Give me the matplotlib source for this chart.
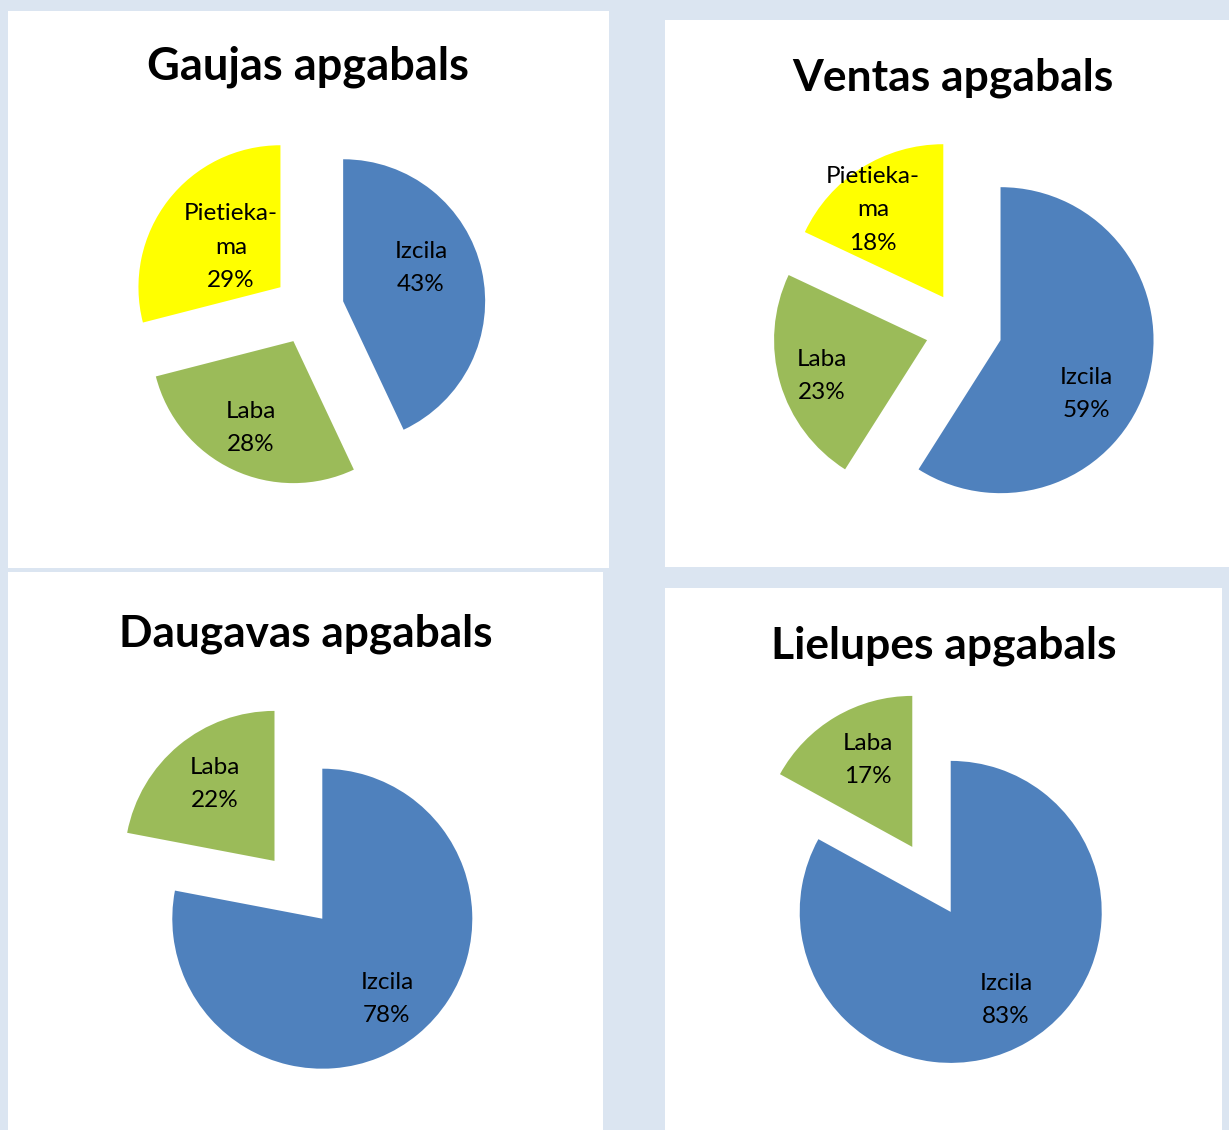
import matplotlib
matplotlib.use("Agg")
import matplotlib.pyplot as plt
from matplotlib.patches import Rectangle

# ---- data ----
titles = ["Gaujas apgabals", "Ventas apgabals", "Daugavas apgabals", "Lielupes apgabals"]
categories = ["Izcila", "Laba", "Pietiekama"]
label_text = ["Izcila", "Laba", "Pietieka-\nma"]
gaujas = [43, 28, 29]
ventas = [59, 23, 18]
daugavas = [78, 22]
lielupes = [83, 17]
series = [gaujas, ventas, daugavas, lielupes]

# ---- style / layout ----
BG = "#DBE5F1"
COLORS = ["#4F81BD", "#9BBB59", "#FFFF00"]
W, H = 1229, 1130
EXPLODE_FRAC = 0.25

fig = plt.figure(figsize=(W / 100, H / 100), dpi=100, facecolor=BG)
ax = fig.add_axes([0, 0, 1, 1])
ax.set_facecolor(BG)


def Y(y):
    return H - y


# panels (x0, y0, x1, y1) in pixel coords, top-down
panels = [(8, 11, 609, 568), (665, 20, 1229, 567), (8, 572, 603, 1130), (665, 588, 1222, 1130)]
# pie centre and radius in pixels
pies = [((308.5, 309.0), 142), ((963.8, 329.5), 153), ((298.4, 889.8), 150), ((931.5, 879.4), 151)]
# title centre x, baseline y, target width
title_pos = [(308, 79, 320), (953, 91, 320), (306, 646, 372), (943.5, 659, 345)]
# label block centres for each slice
label_pos = [
    [(421, 268), (251, 428), (231, 247)],
    [(1086, 394), (822, 376), (873, 210)],
    [(387, 999), (215, 784)],
    [(1006, 1000), (868, 760)],
]

for (x0, y0, x1, y1) in panels:
    ax.add_patch(Rectangle((x0, Y(y1)), x1 - x0, y1 - y0, facecolor="white", edgecolor="none", zorder=0))

for vals, ((cx, cy), r), lpos in zip(series, pies, label_pos):
    n = len(vals)
    ax.pie(vals, colors=COLORS[:n], startangle=90, counterclock=False,
           explode=[EXPLODE_FRAC * r] * n, radius=r, center=(cx, Y(cy)),
           wedgeprops=dict(linewidth=0), frame=True)
    for i, v in enumerate(vals):
        lx, ly = lpos[i]
        ax.text(lx, Y(ly), f"{label_text[i]}\n{v}%", ha="center", va="center",
                fontsize=17.5, family="Lato", color="black", linespacing=1.75, zorder=5)

fig.canvas.draw()
for t, (tx, ty, tw) in zip(titles, title_pos):
    txt = ax.text(tx, Y(ty), t, ha="center", va="baseline", fontsize=30,
                  fontweight="bold", family="Lato", color="black", zorder=5)
    fig.canvas.draw()
    bb = txt.get_window_extent()
    txt.set_fontsize(30 * tw / bb.width)

ax.set_xlim(0, W)
ax.set_ylim(0, H)
ax.set_aspect("auto")
ax.axis("off")

fig.savefig("out.png", dpi=100, facecolor=BG)
